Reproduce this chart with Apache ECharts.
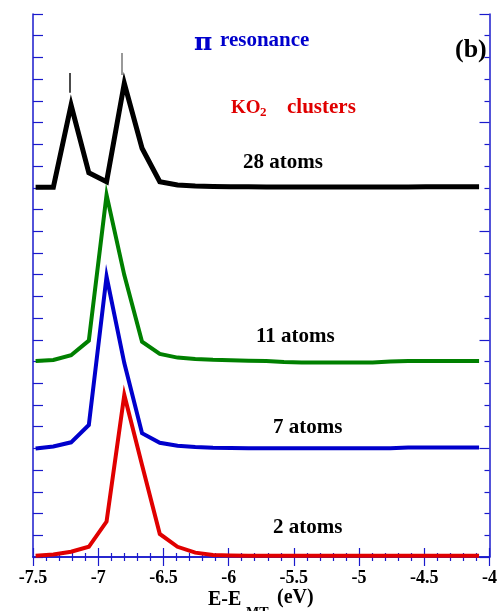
<!DOCTYPE html>
<html>
<head>
<meta charset="utf-8">
<script src="https://cdn.jsdelivr.net/npm/echarts@6/dist/echarts.min.js"></script>
<style>
  html, body { margin: 0; padding: 0; background: #fff; }
  #chart { width: 500px; height: 611px; }
</style>
</head>
<body>
<div id="chart"></div>
<script>
// energy grid (eV), step of 0.01 Ry
const energies = [-7.48, -7.344, -7.208, -7.072, -6.936, -6.8, -6.664, -6.528, -6.392, -6.256,
    -6.12, -5.984, -5.848, -5.712, -5.576, -5.44, -5.304, -5.168, -5.032, -4.896,
    -4.76, -4.624, -4.488, -4.352, -4.216, -4.08];

// curves, already offset vertically as in the figure
const atoms28 = [17.02, 17.02, 20.81, 17.69, 17.28, 21.81, 18.82, 17.28, 17.13, 17.08,
    17.06, 17.05, 17.05, 17.04, 17.04, 17.04, 17.04, 17.04, 17.04, 17.04,
    17.04, 17.04, 17.05, 17.05, 17.05, 17.05];
const atoms11 = [9.02, 9.07, 9.29, 9.96, 16.67, 12.98, 9.91, 9.35, 9.18, 9.12,
    9.08, 9.06, 9.04, 9.02, 8.98, 8.96, 8.96, 8.96, 8.96, 8.96,
    9.0, 9.02, 9.02, 9.02, 9.02, 9.02];
const atoms7 = [5.0, 5.09, 5.28, 6.08, 12.91, 8.93, 5.70, 5.26, 5.12, 5.06,
    5.03, 5.02, 5.01, 5.01, 5.01, 5.01, 5.01, 5.01, 5.01, 5.01,
    5.01, 5.04, 5.04, 5.04, 5.04, 5.04];
const atoms2 = [0.06, 0.12, 0.24, 0.47, 1.63, 7.46, 4.24, 1.06, 0.47, 0.20,
    0.09, 0.07, 0.06, 0.06, 0.06, 0.06, 0.06, 0.06, 0.06, 0.06,
    0.06, 0.06, 0.06, 0.06, 0.06, 0.06];

// peak markers above the 28-atom curve: [x, yFrom, yTo]
const peakMarks = [[-7.216, 21.38, 22.28], [-6.823, 22.19, 23.2]];

const serif = "'Liberation Serif', 'DejaVu Serif', serif";
const axisBlue = '#1a1acc';

const chart = echarts.init(document.getElementById('chart'));

const pairs = ys => energies.map((x, i) => [x, ys[i]]);

const lineSeries = (name, ys, color, width) => ({
    name: name,
    type: 'line',
    data: pairs(ys),
    showSymbol: false,
    lineStyle: { color: color, width: width, join: 'miter' },
    animation: false
});

const xAxisBase = {
    type: 'value', min: -7.5, max: -4, interval: 0.5,
    axisLine: { lineStyle: { color: axisBlue, width: 1.5 } },
    axisTick: { inside: true, length: 9, lineStyle: { color: axisBlue, width: 1.2 } },
    minorTick: { show: true, splitNumber: 5, length: 4, lineStyle: { color: axisBlue, width: 1.2 } },
    splitLine: { show: false }
};

const yAxisBase = {
    type: 'value', min: 0, max: 25,
    axisLine: { show: true, lineStyle: { color: axisBlue, width: 1.5 } },
    axisLabel: { show: false },
    splitLine: { show: false }
};

const txt = (text, x, y, size, color, family) => ({
    type: 'text', x: x, y: y,
    style: {
        text: text, fill: color, font: 'bold ' + size + 'px ' + (family || serif),
        textAlign: 'left', textVerticalAlign: 'middle'
    }
});

const blackSeries = lineSeries('28 atoms', atoms28, '#000000', 5);
blackSeries.markLine = {
    silent: true, symbol: 'none', animation: false,
    label: { show: false },
    data: peakMarks.map((m, i) => [
        { coord: [m[0], m[1]], lineStyle: { color: i === 0 ? '#111111' : '#777777', width: 1.5, type: 'solid' } },
        { coord: [m[0], m[2]] }
    ])
};

chart.setOption({
    backgroundColor: '#ffffff',
    animation: false,
    grid: { left: 33, right: 1, top: 14, bottom: 54 },
    xAxis: [
        Object.assign({}, xAxisBase, {
            position: 'bottom',
            axisLabel: { color: '#000', fontFamily: serif, fontWeight: 'bold', fontSize: 18, margin: 12 }
        }),
        Object.assign({}, xAxisBase, { position: 'top', axisLabel: { show: false } })
    ],
    yAxis: [
        Object.assign({}, yAxisBase, {
            position: 'left', interval: 1,
            axisTick: { inside: true, length: 10, lineStyle: { color: axisBlue, width: 1.2 } }
        }),
        Object.assign({}, yAxisBase, {
            position: 'right', interval: 5,
            axisTick: { inside: true, length: 10, lineStyle: { color: axisBlue, width: 1.2 } },
            minorTick: { show: true, splitNumber: 5, length: 5, lineStyle: { color: axisBlue, width: 1.2 } }
        })
    ],
    series: [
        blackSeries,
        lineSeries('11 atoms', atoms11, '#008000', 4),
        lineSeries('7 atoms', atoms7, '#0000cc', 4),
        lineSeries('2 atoms', atoms2, '#e00000', 4)
    ],
    graphic: [
        txt('π', 194, 43, 25, '#0000cc', "'DejaVu Serif', serif"),
        txt('resonance', 220, 41, 21, '#0000cc'),
        txt('(b)', 455, 50, 26, '#000000'),
        txt('KO', 231, 108, 19, '#e00000'),
        txt('2', 260, 113, 13, '#e00000'),
        txt('clusters', 287, 108, 21, '#e00000'),
        txt('28 atoms', 243, 163, 21, '#000000'),
        txt('11 atoms', 256, 337, 21, '#000000'),
        txt('7 atoms', 273, 428, 21, '#000000'),
        txt('2 atoms', 273, 528, 21, '#000000'),
        txt('E-E', 208, 600, 20, '#000000'),
        txt('MT', 246, 613, 14, '#000000'),
        txt('(eV)', 277, 598, 20, '#000000')
    ]
});
</script>
</body>
</html>
